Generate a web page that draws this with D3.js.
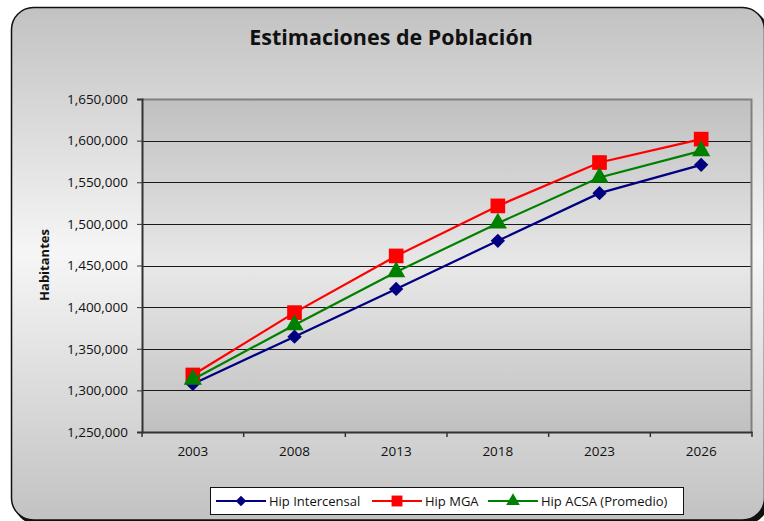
<!DOCTYPE html>
<html>
<head>
<meta charset="utf-8">
<script src="https://cdn.jsdelivr.net/npm/d3@7"></script>
<style>
  body { margin: 0; background: #fff; }
  svg text { font-family: "Open Sans", "DejaVu Sans", sans-serif; fill: #111; }
</style>
</head>
<body>
<div id="chart"></div>
<script>
// chart data
var years = ["2003", "2008", "2013", "2018", "2023", "2026"];
var intercensal = [1307700, 1364500, 1421900, 1479600, 1536900, 1570900];
var mga = [1318500, 1393400, 1461500, 1521600, 1573700, 1601800];
var acsa = [1313000, 1378600, 1442300, 1500800, 1555700, 1587700];
var yTicks = [1250000, 1300000, 1350000, 1400000, 1450000, 1500000, 1550000, 1600000, 1650000];
var seriesNames = ["Hip Intercensal", "Hip MGA", "Hip ACSA (Promedio)"];
var seriesColors = ["#000080", "#ff0000", "#008000"];
var seriesShapes = [d3.symbolDiamond2, d3.symbolSquare, d3.symbolTriangle];

var width = 764, height = 521;
var margin = {top: 99, right: 12, bottom: 89, left: 142};
var plotW = width - margin.left - margin.right;
var plotH = height - margin.top - margin.bottom;

var svg = d3.select("#chart").append("svg")
    .attr("width", width)
    .attr("height", height);

var defs = svg.append("defs");

//outer background gradient
var bg = defs.append("linearGradient").attr("id", "bgGrad")
    .attr("x1", 0).attr("y1", 0).attr("x2", 0).attr("y2", 1);
bg.append("stop").attr("offset", "0%").attr("stop-color", "#c2c2c2");
bg.append("stop").attr("offset", "48%").attr("stop-color", "#f6f6f6");
bg.append("stop").attr("offset", "100%").attr("stop-color", "#c2c2c2");

//plot area gradient
var pg = defs.append("linearGradient").attr("id", "plotGrad")
    .attr("x1", 0).attr("y1", 0).attr("x2", 0).attr("y2", 1);
pg.append("stop").attr("offset", "0%").attr("stop-color", "#c0c0c0");
pg.append("stop").attr("offset", "50%").attr("stop-color", "#e8e8e8");
pg.append("stop").attr("offset", "100%").attr("stop-color", "#c0c0c0");

//shadow, only the bottom right corner shows
svg.append("rect")
    .attr("x", 14).attr("y", 10)
    .attr("width", 754).attr("height", 514)
    .attr("rx", 22).attr("ry", 22)
    .attr("fill", "#111");

svg.append("rect")
    .attr("x", 11.5).attr("y", 7.5)
    .attr("width", 753).attr("height", 512.5)
    .attr("rx", 22).attr("ry", 22)
    .attr("fill", "url(#bgGrad)")
    .attr("stroke", "#111")
    .attr("stroke-width", 1.5);

svg.append("text")
    .attr("x", 391)
    .attr("y", 45)
    .attr("text-anchor", "middle")
    .style("font-size", "21.5px")
    .style("font-weight", "bold")
    .text("Estimaciones de Población");

var g = svg.append("g")
    .attr("transform", "translate(" + margin.left + "," + margin.top + ")");

var x = d3.scaleBand()
    .domain(years)
    .range([0, plotW]);

var y = d3.scaleLinear()
    .domain([1250000, 1650000])
    .range([plotH, 0]);

g.append("rect")
    .attr("width", plotW)
    .attr("height", plotH)
    .attr("fill", "url(#plotGrad)");

//gridlines
g.selectAll(".grid")
    .data(yTicks.slice(1, -1))
    .enter()
    .append("line")
    .attr("class", "grid")
    .attr("x1", 0)
    .attr("x2", plotW)
    .attr("y1", function(d){ return Math.round(y(d)) + 0.5; })
    .attr("y2", function(d){ return Math.round(y(d)) + 0.5; })
    .attr("stroke", "#1a1a1a")
    .attr("stroke-width", 1);

//top and right border
g.append("path")
    .attr("d", "M0,0.5H" + (plotW - 0.5) + "V" + plotH)
    .attr("fill", "none")
    .attr("stroke", "#808080")
    .attr("stroke-width", 2);

//y axis
var yAxis = d3.axisLeft(y)
    .tickValues(yTicks)
    .tickSize(5)
    .tickPadding(9)
    .tickFormat(d3.format(","));

var gy = g.append("g").call(yAxis);
gy.select(".domain").attr("stroke", "#333").attr("stroke-width", 2);
gy.selectAll(".tick line").attr("stroke", "#333");
gy.selectAll(".tick text").style("font-size", "13.5px").attr("fill", "#111");

//x axis, ticks between categories
var gx = g.append("g")
    .attr("transform", "translate(0," + plotH + ")")
    .call(d3.axisBottom(x).tickSize(0).tickPadding(14));
gx.select(".domain").attr("stroke", "#333").attr("stroke-width", 2);
gx.selectAll(".tick text").style("font-size", "13.5px").attr("fill", "#111");

var bounds = years.map(function(d){ return x(d); }).concat([plotW]);
gx.selectAll(".sep")
    .data(bounds)
    .enter()
    .append("line")
    .attr("class", "sep")
    .attr("x1", function(d){ return d; })
    .attr("x2", function(d){ return d; })
    .attr("y1", 0)
    .attr("y2", 5)
    .attr("stroke", "#333")
    .attr("stroke-width", 1.5);

svg.append("text")
    .attr("transform", "translate(49,265) rotate(-90)")
    .attr("text-anchor", "middle")
    .style("font-size", "13px")
    .style("font-weight", "bold")
    .text("Habitantes");

//series lines and markers
var allSeries = [intercensal, mga, acsa];
var line = d3.line()
    .x(function(d, i){ return x(years[i]) + x.bandwidth() / 2; })
    .y(function(d){ return y(d); });

var markerSize = [130, 215, 145];

allSeries.forEach(function(values, s){
    g.append("path")
        .datum(values)
        .attr("d", line)
        .attr("fill", "none")
        .attr("stroke", seriesColors[s])
        .attr("stroke-width", 2.2);

    g.selectAll(".m" + s)
        .data(values)
        .enter()
        .append("path")
        .attr("class", "m" + s)
        .attr("transform", function(d, i){
            return "translate(" + (x(years[i]) + x.bandwidth() / 2) + "," + y(d) + ")";
        })
        .attr("d", d3.symbol().type(seriesShapes[s]).size(markerSize[s]))
        .attr("fill", seriesColors[s]);
});

//legend
var legend = svg.append("g");
legend.append("rect")
    .attr("x", 210.5).attr("y", 487.5)
    .attr("width", 473).attr("height", 27)
    .attr("fill", "#fff")
    .attr("stroke", "#111");

var legendX = [216, 372, 488];
seriesNames.forEach(function(name, s){
    var lx = legendX[s];
    legend.append("line")
        .attr("x1", lx).attr("x2", lx + 50)
        .attr("y1", 501).attr("y2", 501)
        .attr("stroke", seriesColors[s])
        .attr("stroke-width", 2.2);
    legend.append("path")
        .attr("transform", "translate(" + (lx + 25) + ",501)")
        .attr("d", d3.symbol().type(seriesShapes[s]).size(markerSize[s] * 0.55))
        .attr("fill", seriesColors[s]);
    legend.append("text")
        .attr("x", lx + 53)
        .attr("y", 505.5)
        .style("font-size", "13px")
        .text(name);
});
</script>
</body>
</html>
